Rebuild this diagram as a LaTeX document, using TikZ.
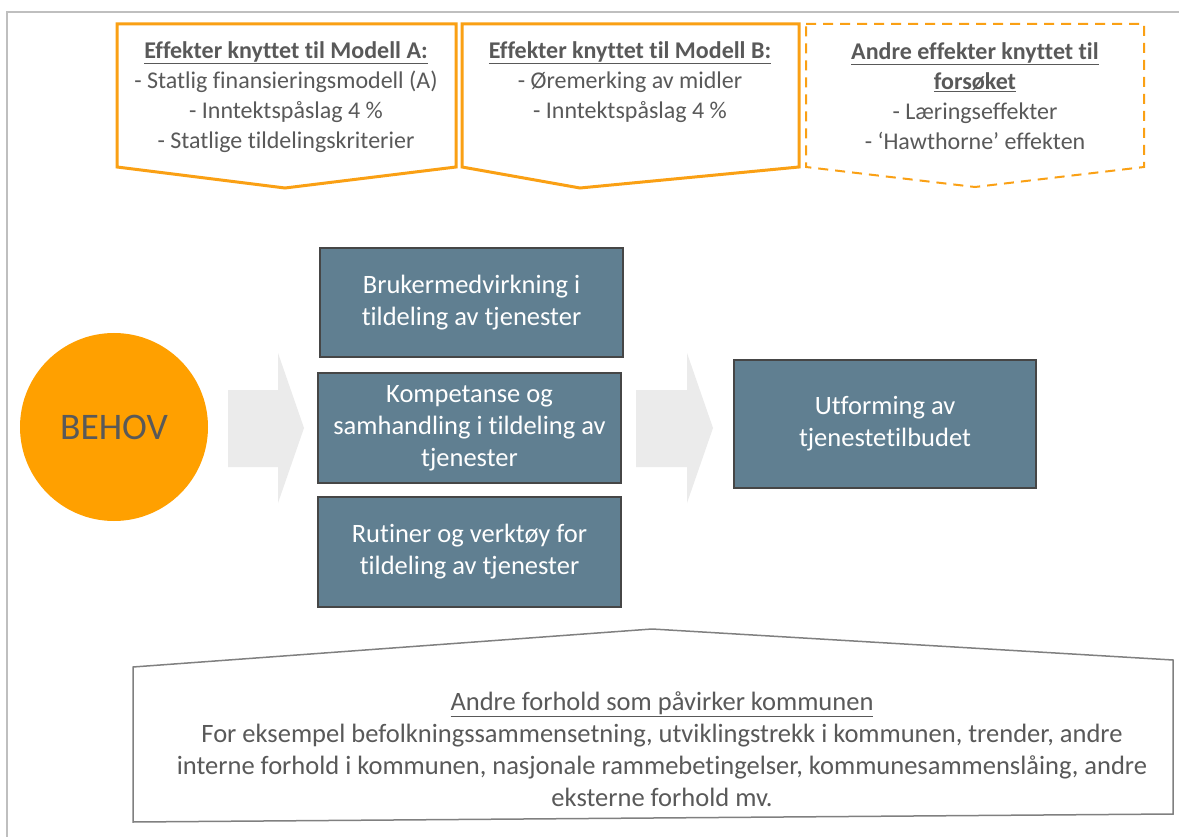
\documentclass[tikz,border=0pt]{standalone}
\usepackage{fontspec}
\setmainfont{Carlito}[Ligatures={NoCommon}]
\definecolor{orng}{RGB}{250,160,20}
\definecolor{orngfill}{RGB}{255,160,0}
\definecolor{txtgray}{RGB}{89,89,89}
\definecolor{framec}{RGB}{191,191,191}
\definecolor{bluefill}{RGB}{96,127,145}
\definecolor{blueedge}{RGB}{70,70,70}
\definecolor{arrowc}{RGB}{235,235,235}
\definecolor{bottomedge}{RGB}{128,128,128}
\tikzset{
  toptext/.style={align=center, text=txtgray, font=\fontsize{24}{30}\selectfont, inner sep=0pt},
  bluebox/.style={draw=blueedge, line width=1.8pt, fill=bluefill, text=white, align=center,
    font=\fontsize{26.5}{32}\selectfont, inner sep=0pt},
  orngbox/.style={draw=orng, line width=3pt, line join=miter},
  dashbox/.style={draw=orng, line width=2pt, dash pattern=on 10pt off 7pt},
  grayarrow/.style={fill=arrowc},
}
\begin{document}
\begin{tikzpicture}[x=1pt,y=-1pt]
\useasboundingbox (0,0) rectangle (1179,837);
\fill[white] (0,0) rectangle (1179,837);
% outer frame
\draw[framec, line width=2pt] (7,837) -- (7,12) -- (1179,12);

% top boxes
\draw[orngbox] (117,24) -- (456,24) -- (456,167) -- (285,188) -- (117,167) -- cycle;
\draw[orngbox] (462,24) -- (799,24) -- (799,167) -- (580,188) -- (462,167) -- cycle;
\draw[dashbox] (806,24) -- (1144,24) -- (1144,167) -- (975,187) -- (806,167) -- cycle;

\node[toptext] (ta) at (286,97) {\underline{\textbf{Effekter knyttet til Modell A:}}\\- Statlig finansieringsmodell (A)\\- Inntektspåslag 4 \%\\- Statlige tildelingskriterier};
\node[toptext] (tb) at (630,82) {\underline{\textbf{Effekter knyttet til Modell B:}}\\- Øremerking av midler\\- Inntektspåslag 4 \%};
\node[toptext] (tc) at (975,96) {\underline{\textbf{Andre effekter knyttet til}}\\\underline{\textbf{forsøket}}\\- Læringseffekter\\- ‘Hawthorne’ effekten};

% circle
\node[circle, fill=orngfill, minimum size=188pt, inner sep=0pt, text=txtgray,
  font=\fontsize{37.5}{40}\selectfont] (behov) at (114,427) {BEHOV};

% gray block arrows
\fill[grayarrow] (228,390) -- (278,390) -- (278,353) -- (304,428) -- (278,503) -- (278,467) -- (228,467) -- cycle;
\fill[grayarrow] (636,390) -- (687,390) -- (687,353) -- (713,428) -- (687,503) -- (687,467) -- (636,467) -- cycle;

% blue boxes
\node[bluebox, minimum width=303pt, minimum height=109pt] (b1) at (471.5,302.5) {Brukermedvirkning i\\tildeling av tjenester};
\node[bluebox, minimum width=303pt, minimum height=110pt] (b2) at (469.5,428) {Kompetanse og\\samhandling i tildeling av\\tjenester};
\node[bluebox, minimum width=303pt, minimum height=110pt] (b3) at (469.5,552) {Rutiner og verktøy for\\tildeling av tjenester};
\node[bluebox, minimum width=302pt, minimum height=128pt] (b4) at (885,424) {Utforming av\\tjenestetilbudet};

% bottom shape
\draw[bottomedge, line width=1.5pt, fill=white, line join=miter] (133,667) -- (652,629) -- (1173,660) -- (1173,814) -- (133,822) -- cycle;
\node[align=center, text=txtgray, font=\fontsize{26.5}{32}\selectfont, inner sep=0pt] (bt) at (662,749)
  {\underline{Andre forhold som påvirker kommunen}\\For eksempel befolkningssammensetning, utviklingstrekk i kommunen, trender, andre\\interne forhold i kommunen, nasjonale rammebetingelser, kommunesammenslåing, andre\\eksterne forhold mv.};
\end{tikzpicture}
\end{document}
